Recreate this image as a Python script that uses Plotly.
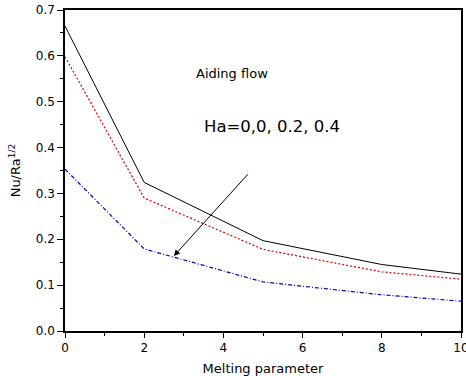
import plotly.graph_objects as go

melting = [0, 2, 5, 8, 10]
nu_ha0 = [0.665, 0.324, 0.197, 0.145, 0.124]
nu_ha02 = [0.598, 0.290, 0.178, 0.129, 0.113]
nu_ha04 = [0.353, 0.179, 0.107, 0.079, 0.065]

fig = go.Figure()
fig.add_trace(go.Scatter(x=melting, y=nu_ha0, mode="lines",
                         line=dict(color="black", width=1)))
fig.add_trace(go.Scatter(x=melting, y=nu_ha02, mode="lines",
                         line=dict(color="#e00000", width=1.2, dash="2px,2px")))
fig.add_trace(go.Scatter(x=melting, y=nu_ha04, mode="lines",
                         line=dict(color="#0000cc", width=1.2, dash="4px,2px,1px,2px")))

fig.add_annotation(x=4.21, y=0.562, text="Aiding flow", showarrow=False,
                   font=dict(size=13, color="black", family="DejaVu Sans"))
fig.add_annotation(x=5.23, y=0.447, text="Ha=0,0, 0.2, 0.4", showarrow=False,
                   font=dict(size=16.5, color="black", family="DejaVu Sans"))
fig.add_annotation(x=2.75, y=0.1635, ax=4.65, ay=0.345, axref="x", ayref="y",
                   xref="x", yref="y", text="", showarrow=True,
                   arrowhead=2, arrowsize=1.2, arrowwidth=1, arrowcolor="black")

axis_common = dict(showgrid=False, zeroline=False, showline=True, linecolor="black",
                   linewidth=1.5, mirror=True, ticks="outside", tickcolor="black",
                   automargin=False, ticklabeloverflow="allow",
                   tickfont=dict(size=12, color="black", family="DejaVu Sans"))

fig.update_xaxes(range=[0, 10], tickvals=[0, 2, 4, 6, 8, 10], ticklen=5,
                 minor=dict(ticks="outside", ticklen=3, dtick=1, tickcolor="black"),
                 title=dict(text="Melting parameter", standoff=10,
                            font=dict(size=13, color="black", family="DejaVu Sans")),
                 **axis_common)
fig.update_yaxes(range=[0, 0.7], tickvals=[0, 0.1, 0.2, 0.3, 0.4, 0.5, 0.6, 0.7],
                 tickformat=".1f", ticklen=6,
                 minor=dict(ticks="outside", ticklen=3, dtick=0.05, tickcolor="black"),
                 title=dict(text="Nu/Ra<sup>1/2</sup>", standoff=12,
                            font=dict(size=13, color="black", family="DejaVu Sans")),
                 **axis_common)

fig.update_layout(width=466, height=376, showlegend=False,
                  margin=dict(l=65, r=5, t=10, b=45),
                  plot_bgcolor="white", paper_bgcolor="white",
                  font=dict(family="DejaVu Sans", color="black"))

fig.write_html("out.html")
